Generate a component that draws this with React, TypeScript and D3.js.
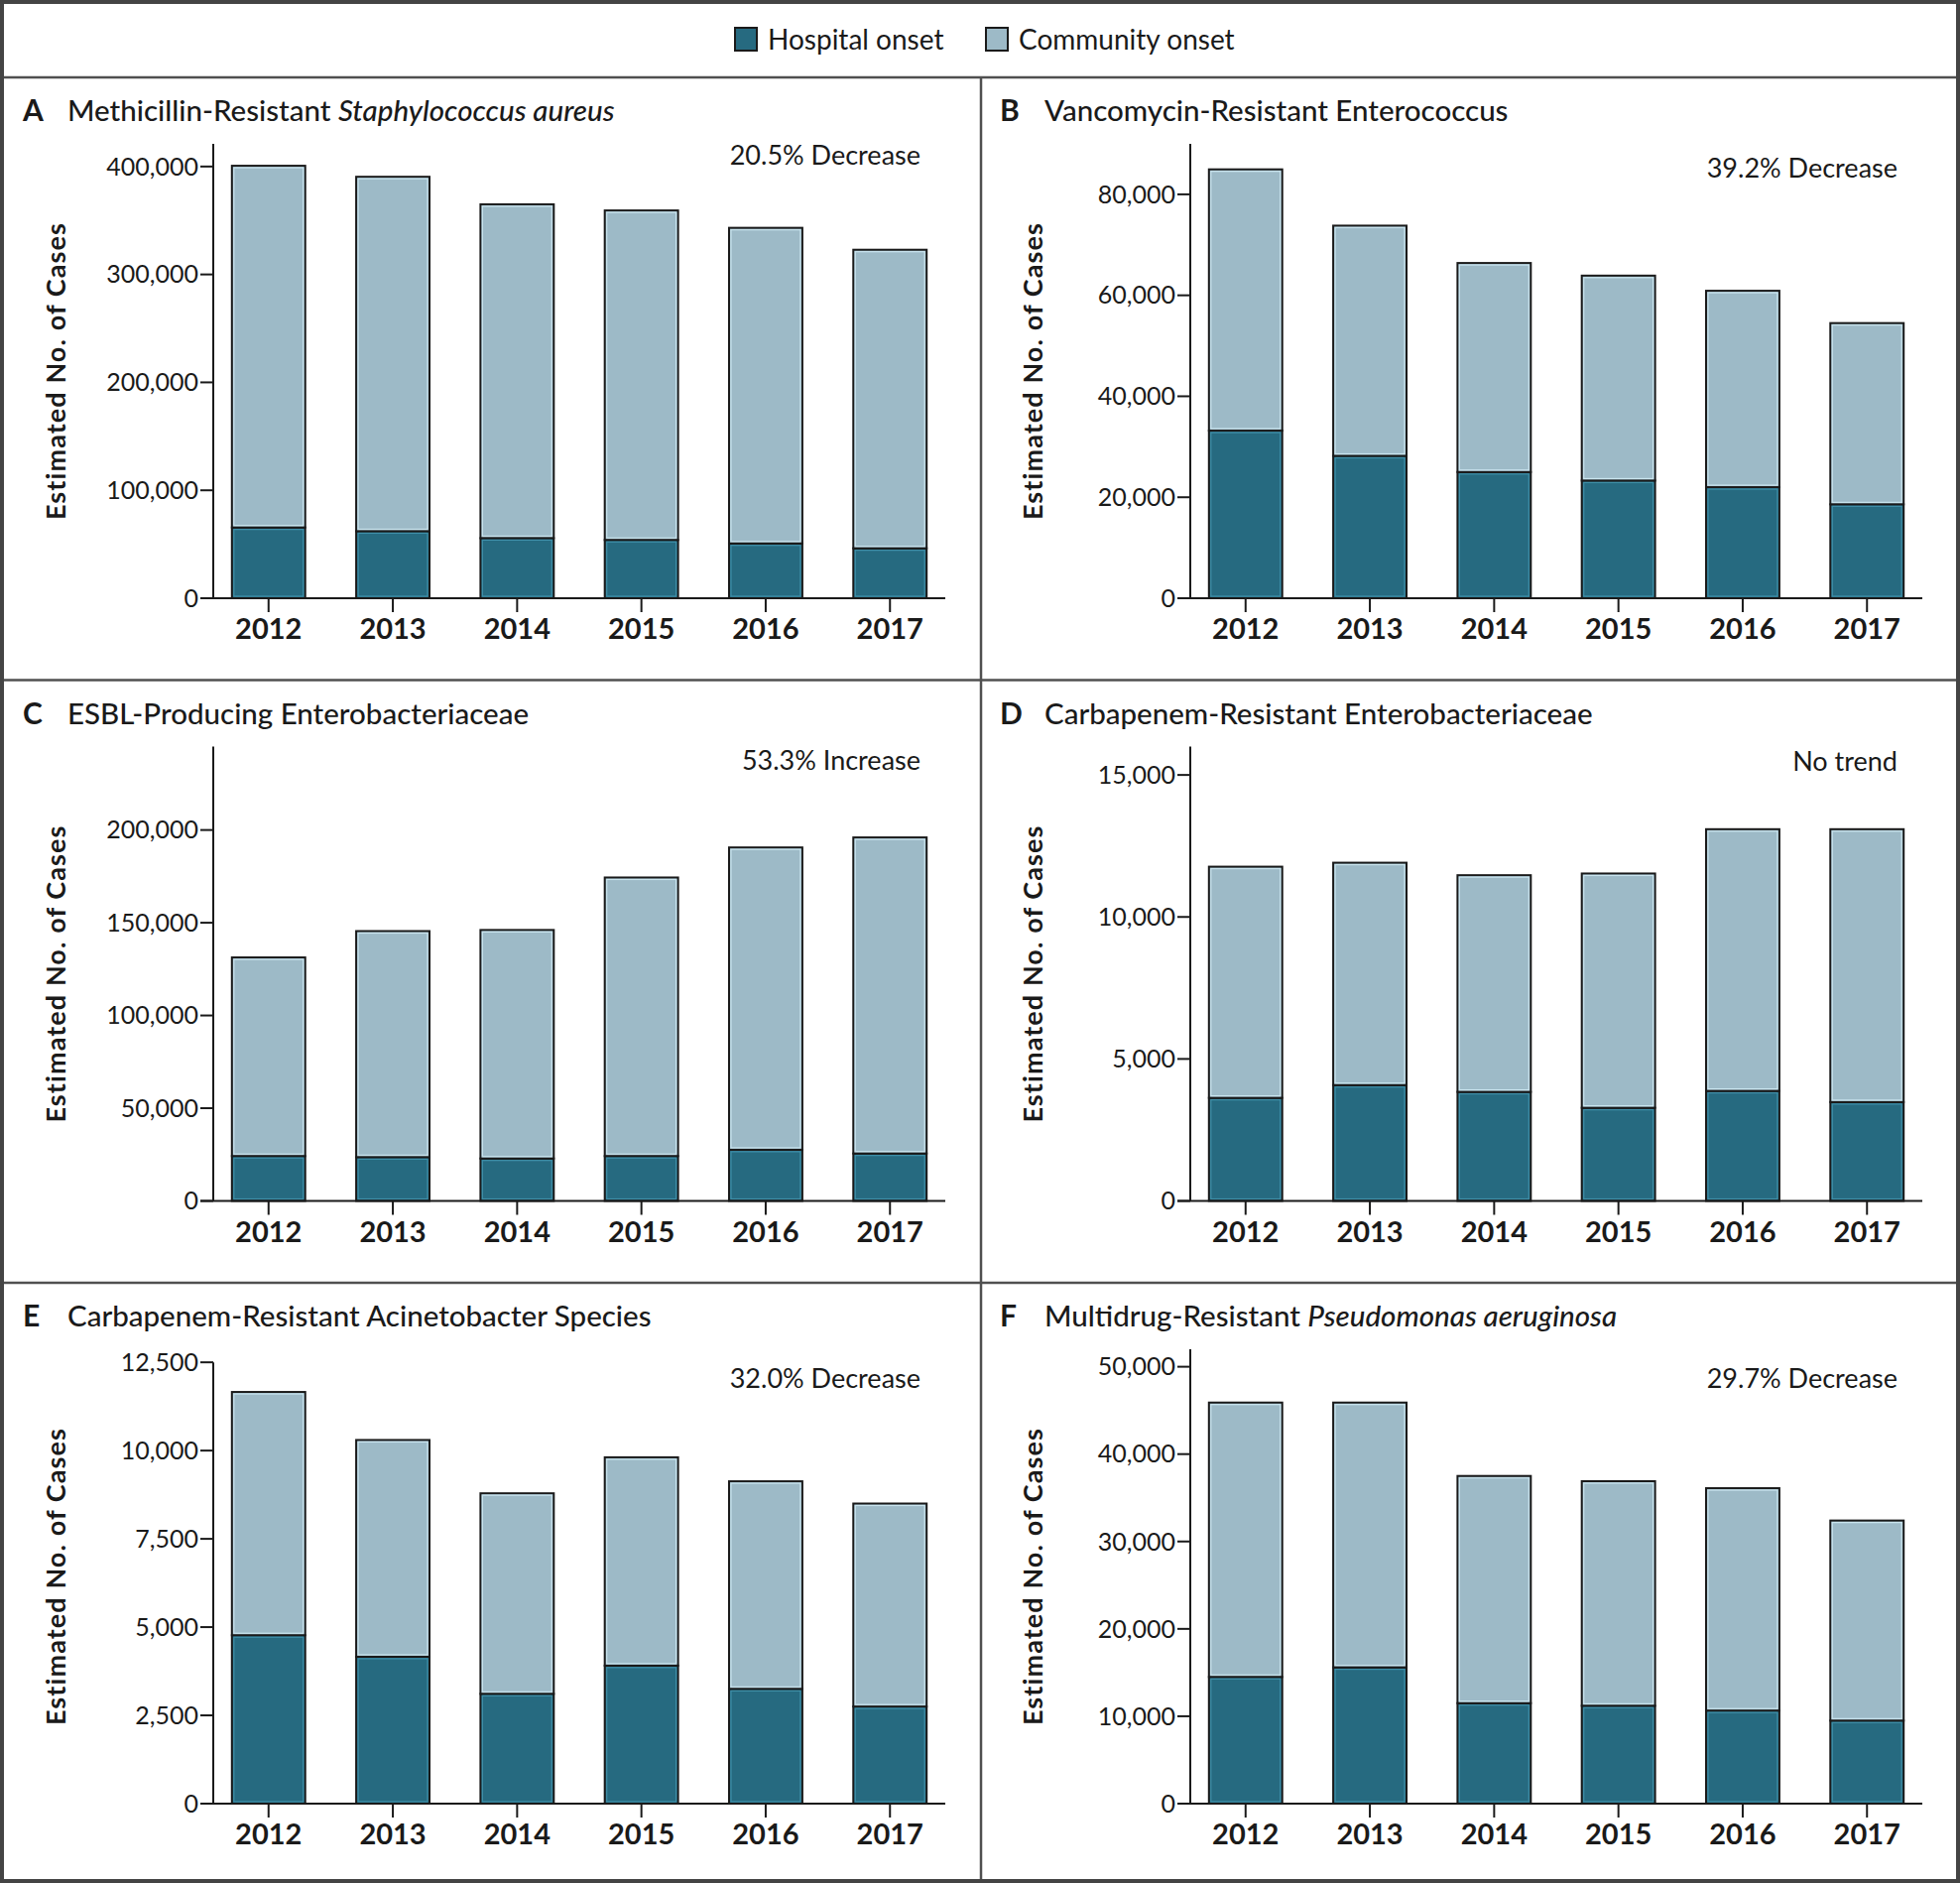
import * as d3 from 'd3'
import { useEffect, useRef } from 'react'

const years = ['2012', '2013', '2014', '2015', '2016', '2017']

const letters = ['A', 'B', 'C', 'D', 'E', 'F']
// title pieces: [regular, italic]
const titles: [string, string][] = [
  ['Methicillin-Resistant ', 'Staphylococcus aureus'],
  ['Vancomycin-Resistant Enterococcus', ''],
  ['ESBL-Producing Enterobacteriaceae', ''],
  ['Carbapenem-Resistant Enterobacteriaceae', ''],
  ['Carbapenem-Resistant Acinetobacter Species', ''],
  ['Multidrug-Resistant ', 'Pseudomonas aeruginosa'],
]
const notes = ['20.5% Decrease', '39.2% Decrease', '53.3% Increase', 'No trend', '32.0% Decrease', '29.7% Decrease']

const hospitalA = [65600, 62100, 55700, 54000, 50800, 46300]
const communityA = [335100, 328400, 309300, 305300, 292400, 276600]
const hospitalB = [33200, 28200, 25000, 23300, 22000, 18600]
const communityB = [51750, 45600, 41400, 40600, 38900, 35900]
const hospitalC = [24200, 23600, 22900, 24200, 27600, 25600]
const communityC = [107100, 121900, 123200, 150200, 163000, 170400]
const hospitalD = [3630, 4080, 3840, 3280, 3875, 3480]
const communityD = [8140, 7830, 7630, 8250, 9215, 9610]
const hospitalE = [4770, 4160, 3110, 3910, 3250, 2750]
const communityE = [6890, 6140, 5680, 5900, 5880, 5750]
const hospitalF = [14500, 15600, 11500, 11200, 10650, 9500]
const communityF = [31400, 30300, 26000, 25700, 25450, 22900]

const hospitalSeries = [hospitalA, hospitalB, hospitalC, hospitalD, hospitalE, hospitalF]
const communitySeries = [communityA, communityB, communityC, communityD, communityE, communityF]

const yTicks = [
  [0, 100000, 200000, 300000, 400000],
  [0, 20000, 40000, 60000, 80000],
  [0, 50000, 100000, 150000, 200000],
  [0, 5000, 10000, 15000],
  [0, 2500, 5000, 7500, 10000, 12500],
  [0, 10000, 20000, 30000, 40000, 50000],
]
// value at the top end of each y axis
const yMaxes = [421000, 90000, 245000, 16000, 12870, 52000]
const axisStopsAtTopTick = [false, false, false, false, true, false]

const legendLabels = ['Hospital onset', 'Community onset']

const HOSP = '#266a80'
const HOSP_HI = '#3f8fa8'
const COMM = '#9dbac7'
const COMM_HI = '#c9e4ee'
const INK = '#1a1a1a'
const FONT = 'Lato, "Open Sans", sans-serif'

export default function App() {
  const ref = useRef<SVGSVGElement>(null)

  useEffect(() => {
    if (!ref.current) return
    const width = 1976
    const height = 1898
    const svg = d3.select(ref.current)
    svg.selectAll('*').remove()
    svg.attr('width', width).attr('height', height)

    svg.append('rect').attr('width', width).attr('height', height).attr('fill', '#fff')

    // legend
    const legend = svg.append('g').attr('font-family', FONT).attr('font-size', 28)
    const legendX = [741, 994]
    legendLabels.forEach((lab, i) => {
      legend.append('rect')
        .attr('x', legendX[i]).attr('y', 28).attr('width', 22).attr('height', 23)
        .attr('fill', i === 0 ? HOSP : COMM).attr('stroke', INK).attr('stroke-width', 2)
      legend.append('text')
        .attr('x', legendX[i] + 33).attr('y', 50)
        .attr('fill', INK)
        .text(lab)
    })

    const rowTops = [78, 685.5, 1293]
    const colLefts = [4, 989]
    const axisX = 211
    const zeroY = 525
    const plotH = 458
    const xEnd = 949
    const noteDy = [88, 101, 90, 91, 106, 106]

    letters.forEach((letter, p) => {
      const left = colLefts[p % 2]
      const top = rowTops[Math.floor(p / 2)]
      const g = svg.append('g').attr('transform', `translate(${left},${top})`).attr('font-family', FONT)

      // title
      g.append('text').attr('x', 19).attr('y', 44).attr('font-size', 30).attr('font-weight', 700)
        .attr('fill', INK).text(letter)
      const t = g.append('text').attr('x', 64).attr('y', 44).attr('font-size', 29.5).attr('font-weight', 500)
        .attr('fill', INK)
      t.append('tspan').text(titles[p][0])
      if (titles[p][1]) t.append('tspan').attr('font-style', 'italic').text(titles[p][1])

      // note
      g.append('text').attr('x', 924).attr('y', noteDy[p]).attr('text-anchor', 'end')
        .attr('font-size', 27).attr('fill', INK).text(notes[p])

      const x = d3.scaleBand<string>().domain(years).range([axisX, xEnd]).paddingInner(0.41).paddingOuter(0.15)
      const y = d3.scaleLinear().domain([0, yMaxes[p]]).range([zeroY, zeroY - plotH])

      // bars
      const hosp = hospitalSeries[p]
      const comm = communitySeries[p]
      const bw = x.bandwidth()
      const segs = years.flatMap((yr, i) => [
        { yr, y0: 0, y1: hosp[i], fill: HOSP, hi: HOSP_HI },
        { yr, y0: hosp[i], y1: hosp[i] + comm[i], fill: COMM, hi: COMM_HI },
      ])
      const bars = g.append('g')
      bars.selectAll('rect.seg').data(segs).enter().append('rect')
        .attr('class', 'seg')
        .attr('x', d => x(d.yr)!)
        .attr('y', d => y(d.y1))
        .attr('width', bw)
        .attr('height', d => y(d.y0) - y(d.y1))
        .attr('fill', d => d.fill)
        .attr('stroke', INK)
        .attr('stroke-width', 2)
      bars.selectAll('rect.hi').data(segs).enter().append('rect')
        .attr('class', 'hi')
        .attr('x', d => x(d.yr)! + 2)
        .attr('y', d => y(d.y1) + 2)
        .attr('width', bw - 4)
        .attr('height', d => Math.max(0, y(d.y0) - y(d.y1) - 4))
        .attr('fill', 'none')
        .attr('stroke', d => d.hi)
        .attr('stroke-width', 1.2)

      // y axis
      const axisTop = axisStopsAtTopTick[p] ? y(yTicks[p][yTicks[p].length - 1]) : y(yMaxes[p])
      g.append('line').attr('x1', axisX).attr('x2', axisX).attr('y1', zeroY).attr('y2', axisTop)
        .attr('stroke', INK).attr('stroke-width', 2)
      const yt = g.append('g')
      yt.selectAll('line').data(yTicks[p]).enter().append('line')
        .attr('x1', axisX - 13).attr('x2', axisX)
        .attr('y1', d => y(d)).attr('y2', d => y(d))
        .attr('stroke', INK).attr('stroke-width', 2)
      yt.selectAll('text').data(yTicks[p]).enter().append('text')
        .attr('x', axisX - 15).attr('y', d => y(d)).attr('dy', '0.35em')
        .attr('text-anchor', 'end').attr('font-size', 25).attr('fill', INK)
        .text(d => d3.format(',')(d))

      // x axis
      g.append('line').attr('x1', axisX - 13).attr('x2', xEnd).attr('y1', zeroY).attr('y2', zeroY)
        .attr('stroke', INK).attr('stroke-width', 2.2)
      const xt = g.append('g')
      xt.selectAll('line').data(years).enter().append('line')
        .attr('x1', d => x(d)! + bw / 2).attr('x2', d => x(d)! + bw / 2)
        .attr('y1', zeroY).attr('y2', zeroY + 14)
        .attr('stroke', INK).attr('stroke-width', 2)
      xt.selectAll('text').data(years).enter().append('text')
        .attr('x', d => x(d)! + bw / 2).attr('y', zeroY + 41)
        .attr('text-anchor', 'middle').attr('font-size', 29).attr('font-weight', 700).attr('fill', INK)
        .text(d => d)

      // y label
      g.append('text')
        .attr('transform', `translate(53,${(zeroY + zeroY - plotH) / 2}) rotate(-90)`)
        .attr('dy', '0.35em')
        .attr('text-anchor', 'middle').attr('font-size', 27).attr('font-weight', 700)
        .attr('letter-spacing', 1.1)
        .attr('fill', INK).text('Estimated No. of Cases')
    })

    // frame
    const frame = svg.append('g').attr('fill', 'none').attr('stroke', '#505050')
    rowTops.forEach(ry => {
      frame.append('line').attr('x1', 0).attr('x2', width).attr('y1', ry).attr('y2', ry).attr('stroke-width', 2.5)
    })
    frame.append('line').attr('x1', 989).attr('x2', 989).attr('y1', 78).attr('y2', height).attr('stroke-width', 2.5)
    frame.append('rect').attr('x', 2).attr('y', 2).attr('width', width - 4).attr('height', height - 4)
      .attr('stroke', '#444').attr('stroke-width', 4)

    return () => {
      svg.selectAll('*').remove()
    }
  }, [])

  return (
    <div style={{ position: 'absolute', left: 0, top: 0 }}>
      <svg ref={ref} style={{ display: 'block' }} />
    </div>
  )
}
